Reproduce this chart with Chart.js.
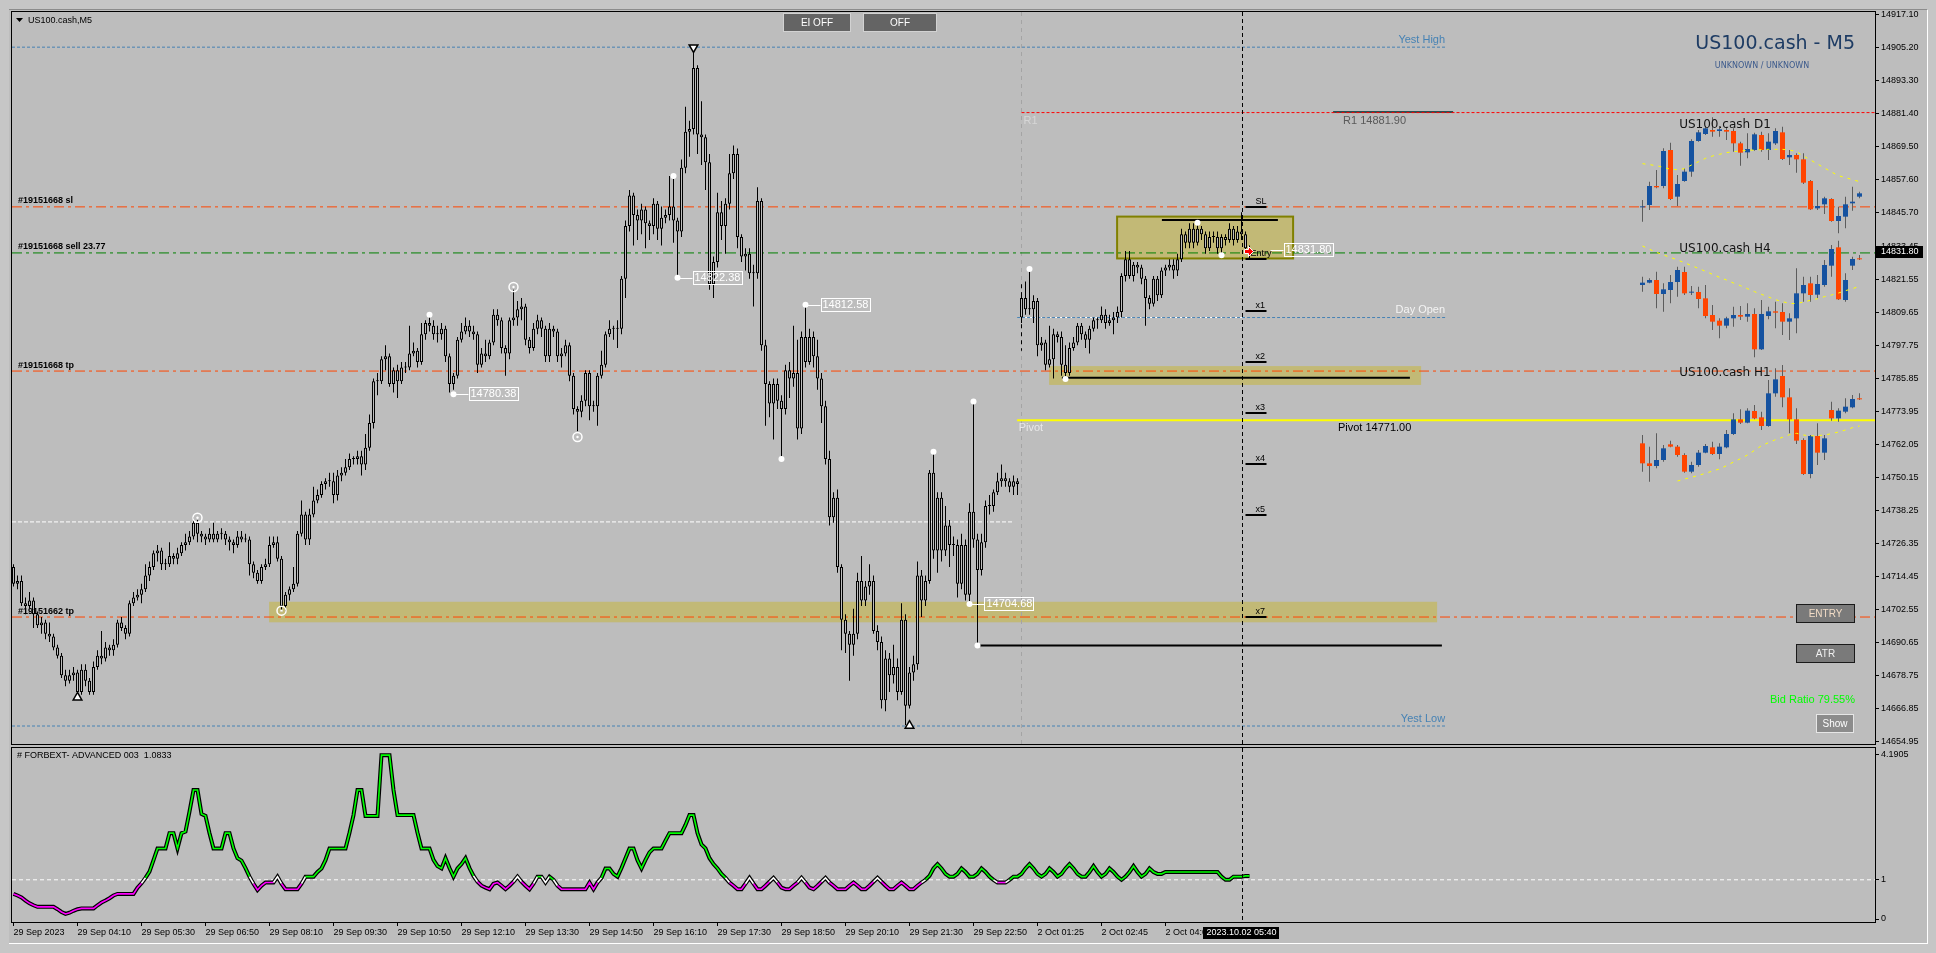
<!DOCTYPE html>
<html>
<head>
<meta charset="utf-8">
<title>US100.cash,M5</title>
<script src="https://cdn.jsdelivr.net/npm/chart.js@4.4.1/dist/chart.umd.min.js"></script>
<style>
  html, body { margin: 0; padding: 0; }
  body { width: 1936px; height: 953px; position: relative; overflow: hidden; background: #c6c6c6; }
  #win { position: absolute; left: 9px; top: 9px; width: 1919px; height: 935px; background: #bdbdbd;
         border-top: 1px solid #8c8c8c; border-right: 1px solid #fff; border-bottom: 1px solid #fff; box-sizing: border-box; }
  canvas { position: absolute; }
</style>
</head>
<body>
<div id="win"></div>
<canvas id="main" width="1936" height="770" style="left:0;top:0"></canvas>
<canvas id="ind" width="1936" height="223" style="left:0;top:730px"></canvas>
<canvas id="d1" width="240" height="125" style="left:1630px;top:110px"></canvas>
<canvas id="h4" width="240" height="125" style="left:1630px;top:235px"></canvas>
<canvas id="h1" width="240" height="130" style="left:1630px;top:360px"></canvas>
<script>
const BG = '#bdbdbd';
const FONT = '"Liberation Sans", Arial, sans-serif';

// time axis, one label every 16 bars (80 min of M5)
const timeLabels = ['29 Sep 2023', '29 Sep 04:10', '29 Sep 05:30', '29 Sep 06:50', '29 Sep 08:10', '29 Sep 09:30',
  '29 Sep 10:50', '29 Sep 12:10', '29 Sep 13:30', '29 Sep 14:50', '29 Sep 16:10', '29 Sep 17:30', '29 Sep 18:50',
  '29 Sep 20:10', '29 Sep 21:30', '29 Sep 22:50', '2 Oct 01:25', '2 Oct 02:45', '2 Oct 04:05'];
const cursorBar = 307;
const cursorLabel = '2023.10.02 05:40';

const priceTicks = [14917.10, 14905.20, 14893.30, 14881.40, 14869.50, 14857.60, 14845.70, 14833.45, 14821.55,
  14809.65, 14797.75, 14785.85, 14773.95, 14762.05, 14750.15, 14738.25, 14726.35, 14714.45, 14702.55, 14690.65,
  14678.75, 14666.85, 14654.95];

const fridayOpen = 14718, mondayOpen = 14808, mondayStart = 252;
const closes = [
  14712,14713,14705,14704,14706,14701,14697,14698,14694,14693, 14689,14686,14679,14677,14679,14680,14673,14681,14677,14673,
  14682,14686,14685,14689,14688,14690,14698,14696,14694,14705, 14707,14708,14710,14715,14718,14723,14724,14719,14719,14722,
  14721,14723,14726,14727,14729,14734,14730,14729,14728,14730, 14728,14730,14730,14728,14727,14726,14729,14728,14728,14719,
  14716,14713,14718,14719,14726,14727,14721,14704,14708,14710, 14712,14730,14737,14728,14737,14742,14744,14748,14749,14749,
  14744,14751,14752,14754,14757,14757,14758,14755,14761,14770, 14785,14785,14793,14794,14784,14789,14785,14790,14790,14795,
  14796,14792,14802,14806,14805,14802,14802,14804,14794,14784, 14787,14800,14803,14805,14803,14802,14791,14795,14794,14799,
  14809,14807,14797,14795,14807,14808,14811,14812,14800,14797, 14804,14807,14804,14794,14804,14803,14794,14795,14798,14787,
  14775,14774,14778,14788,14776,14776,14787,14791,14802,14804, 14804,14804,14822,14841,14852,14845,14843,14847,14842,14841,
  14849,14840,14844,14845,14848,14843,14839,14862,14875,14876, 14898,14874,14873,14864,14820,14828,14846,14841,14849,14860,
  14867,14837,14830,14831,14824,14824,14850,14798,14784,14777, 14784,14778,14775,14789,14786,14788,14768,14801,14792,14801,
  14794,14786,14776,14757,14736,14743,14718,14699,14694,14690, 14694,14713,14706,14711,14713,14695,14691,14670,14685,14679,
  14682,14673,14699,14668,14680,14683,14715,14706,14713,14752, 14724,14743,14724,14733,14726,14726,14712,14726,14708,14738,
  14728,14717,14727,14740,14740,14745,14749,14750,14749,14747, 14749,14748,14815,14811,14811,14814,14798,14799,14791,14793,
  14802,14801,14791,14788,14797,14799,14805,14802,14800,14804, 14807,14807,14809,14806,14807,14808,14810,14823,14829,14823,
  14827,14826,14822,14815,14813,14822,14816,14825,14826,14827, 14825,14829,14838,14835,14840,14835,14840,14838,14833,14837,
  14837,14833,14837,14836,14840,14836,14839,14838,14833,14832];
const highs = [
  14719,14715,14715,14707,14709,14707,14702,14700,14699,14698, 14694,14690,14687,14681,14681,14682,14681,14683,14683,14678,
  14684,14688,14695,14691,14690,14692,14699,14700,14697,14706, 14709,14710,14712,14719,14720,14724,14726,14725,14721,14727,
  14723,14725,14727,14730,14731,14736,14735,14731,14730,14732, 14734,14731,14732,14731,14729,14728,14731,14731,14730,14729,
  14720,14717,14719,14721,14729,14729,14729,14722,14709,14711, 14718,14731,14742,14738,14739,14747,14746,14749,14750,14752,
  14752,14753,14754,14757,14759,14758,14760,14760,14766,14773, 14786,14788,14794,14798,14795,14790,14791,14792,14792,14805,
  14799,14797,14806,14807,14809,14807,14805,14806,14805,14795, 14788,14801,14806,14808,14807,14805,14803,14797,14800,14800,
  14811,14811,14808,14798,14808,14818,14814,14815,14813,14801, 14806,14809,14808,14805,14806,14805,14804,14797,14800,14799,
  14788,14776,14780,14789,14789,14778,14788,14796,14803,14807, 14805,14807,14823,14843,14854,14853,14847,14849,14848,14843,
  14851,14850,14848,14847,14859,14858,14844,14865,14884,14879, 14906,14899,14886,14874,14867,14830,14853,14850,14851,14867,
  14870,14869,14838,14833,14833,14827,14855,14851,14800,14785, 14786,14786,14780,14791,14792,14805,14800,14803,14813,14804,
  14803,14800,14788,14778,14760,14745,14746,14719,14701,14695, 14703,14716,14722,14713,14719,14715,14697,14693,14688,14687,
  14690,14685,14705,14701,14682,14686,14720,14717,14715,14753, 14760,14745,14745,14740,14735,14729,14728,14730,14728,14741,
  14778,14730,14730,14742,14744,14746,14752,14755,14752,14750, 14751,14750,14817,14821,14826,14816,14815,14801,14800,14805,
  14804,14803,14803,14798,14799,14801,14806,14806,14803,14805, 14808,14808,14812,14811,14809,14810,14812,14824,14832,14832,
  14828,14828,14827,14823,14816,14823,14823,14826,14827,14829, 14829,14831,14840,14839,14842,14842,14842,14841,14839,14839,
  14839,14839,14838,14838,14842,14841,14841,14846,14839,14834];
const lows = [
  14711,14710,14704,14701,14703,14696,14696,14694,14692,14691, 14688,14685,14678,14675,14676,14677,14671,14672,14675,14672,
  14672,14681,14683,14684,14686,14686,14689,14695,14692,14693, 14704,14706,14705,14709,14713,14717,14720,14717,14717,14718,
  14719,14719,14722,14724,14726,14728,14727,14727,14726,14727, 14727,14727,14728,14726,14724,14723,14725,14727,14727,14715,
  14714,14712,14712,14717,14718,14725,14720,14702,14702,14706, 14709,14711,14729,14726,14726,14736,14741,14743,14746,14747,
  14741,14742,14749,14751,14753,14755,14755,14751,14753,14760, 14768,14780,14784,14789,14783,14781,14779,14784,14788,14789,
  14794,14790,14791,14800,14803,14800,14799,14800,14792,14781, 14782,14786,14799,14802,14801,14800,14788,14790,14792,14793,
  14798,14805,14795,14787,14793,14805,14805,14807,14798,14795, 14796,14802,14801,14792,14792,14801,14792,14790,14794,14785,
  14773,14767,14772,14776,14771,14774,14769,14786,14790,14801, 14800,14797,14802,14815,14839,14834,14836,14838,14833,14836,
  14838,14836,14834,14842,14843,14835,14823,14837,14860,14866, 14874,14867,14863,14854,14818,14815,14826,14836,14831,14847,
  14858,14833,14828,14825,14822,14812,14822,14796,14769,14772, 14764,14775,14758,14773,14779,14783,14764,14766,14790,14791,
  14790,14782,14770,14755,14733,14734,14716,14688,14687,14677, 14686,14692,14704,14704,14708,14694,14688,14667,14666,14673,
  14676,14670,14672,14661,14667,14677,14681,14700,14704,14712, 14721,14716,14720,14722,14718,14722,14707,14710,14706,14705,
  14725,14690,14715,14725,14737,14738,14744,14747,14747,14745, 14744,14744,14806,14809,14809,14806,14794,14796,14789,14790,
  14786,14799,14787,14786,14787,14796,14798,14800,14797,14795, 14803,14804,14806,14804,14805,14802,14806,14808,14821,14822,
  14821,14824,14820,14805,14811,14812,14814,14815,14823,14825, 14822,14823,14828,14833,14833,14833,14834,14836,14831,14832,
  14835,14831,14830,14834,14835,14834,14835,14836,14831,14829];

// FORBEXT- ADVANCED 003 sub-window values
const forbext = [
  0.64,0.60,0.55,0.47,0.40,0.35,0.31,0.31,0.31,0.31, 0.31,0.25,0.18,0.13,0.16,0.21,0.25,0.27,0.27,0.27,
  0.27,0.35,0.42,0.47,0.53,0.60,0.64,0.64,0.64,0.64, 0.64,0.80,0.91,1.05,1.21,1.50,1.80,1.80,1.80,2.19,
  2.19,1.80,2.19,2.23,2.74,3.29,3.29,2.68,2.63,2.19, 1.80,1.80,1.80,2.19,2.19,1.80,1.55,1.49,1.30,1.08,
  0.90,0.74,0.85,0.93,0.93,0.93,1.08,0.90,0.76,0.76, 0.76,0.76,0.90,1.08,1.08,1.08,1.20,1.29,1.50,1.80,
  1.80,1.80,1.80,1.80,2.20,2.65,3.29,3.29,2.63,2.63, 2.63,2.63,4.18,4.18,4.18,3.29,2.65,2.65,2.65,2.65,
  2.65,2.20,1.80,1.80,1.80,1.51,1.35,1.29,1.55,1.30, 1.08,1.29,1.40,1.55,1.30,1.10,0.95,0.85,0.80,0.76,
  0.90,0.93,0.85,0.76,0.85,0.95,1.08,0.95,0.85,0.76, 0.90,1.08,1.08,0.93,1.08,1.00,0.85,0.76,0.76,0.76,
  0.76,0.76,0.76,0.76,0.93,0.76,0.93,1.05,1.29,1.29, 1.15,1.08,1.30,1.55,1.80,1.80,1.50,1.29,1.51,1.70,
  1.80,1.80,1.80,2.00,2.19,2.19,2.19,2.19,2.40,2.65, 2.65,2.19,1.90,1.80,1.55,1.40,1.29,1.15,1.05,0.93,
  0.85,0.76,0.76,0.90,1.05,0.90,0.76,0.76,0.85,0.95, 1.05,0.93,0.80,0.76,0.76,0.85,0.93,1.05,0.93,0.80,
  0.76,0.85,0.95,1.05,0.93,0.85,0.76,0.76,0.76,0.85, 0.93,0.85,0.76,0.76,0.85,0.95,1.05,0.95,0.85,0.76,
  0.76,0.85,0.93,0.85,0.76,0.76,0.85,0.93,1.00,1.10, 1.29,1.40,1.29,1.15,1.08,1.08,1.15,1.29,1.20,1.08,
  1.08,1.15,1.29,1.20,1.08,1.00,0.93,0.93,0.93,1.00, 1.08,1.08,1.15,1.29,1.40,1.29,1.15,1.08,1.15,1.29,
  1.20,1.08,1.15,1.29,1.40,1.29,1.15,1.08,1.08,1.20, 1.35,1.20,1.08,1.15,1.29,1.20,1.08,1.00,1.08,1.20,
  1.35,1.20,1.08,1.15,1.29,1.20,1.15,1.15,1.20,1.20, 1.20,1.20,1.20,1.20,1.20,1.20,1.20,1.20,1.20,1.20,
  1.20,1.20,1.08,1.00,1.00,1.08,1.08,1.08,1.10,1.10];
const forbextTicks = [0, 1, 4.1905];

// levels
const tradeLevels = [14847.9, 14831.3, 14788.7, 14700.0];
const tradeNames = ['#19151668 sl', '#19151668 sell 23.77', '#19151668 tp', '#19151662 tp'];
const yestHigh = 14905.5, yestLow = 14660.7, r1 = 14881.9, pivot = 14771.0, dayOpen = 14808.0, prevLevel = 14734.3;
const bid = 14831.80;
const zoneTops = [14844.4, 14790.5, 14705.5];
const zoneBottoms = [14829.3, 14783.7, 14698.1];
const zoneFrom = [275.9, 258.9, 63.9];
const zoneTo = [319.9, 351.9, 355.9];
const blackLevels = [14786.3, 14689.7, 14843.2];
const blackFrom = [262.1, 240.9, 287.1];
const blackTo = [349.1, 357.1, 316.1];
const markerNames = ['SL', 'Entry', 'x1', 'x2', 'x3', 'x4', 'x5', 'x7'];
const markerLevels = [14847.9, 14829.0, 14810.5, 14792.1, 14773.7, 14755.3, 14736.9, 14700.1];

// fractal points
const dotBars = [104, 165, 192, 230, 240, 241, 254, 263, 296, 302, 110, 166, 198, 239];
const dotPrices = [14809, 14859, 14757, 14759.6, 14777.7, 14689.7, 14825.5, 14785.8, 14842.2, 14830.5,
  14780.38, 14822.38, 14812.58, 14704.68];
const ringBars = [46, 67, 125, 141];
const ringPrices = [14735.8, 14702.3, 14819.0, 14764.9];
const tagBars = [110, 166, 198, 239];
const tagPrices = [14780.38, 14822.38, 14812.58, 14704.68];
const topArrowBars = [170], topArrowPrices = [14905.4];
const lowArrowBars = [16, 224], lowArrowPrices = [14671, 14660.8];

// multi timeframe panels
const d1Open = [14756,14770,14884,14884,15100,14820,14914,14970,15154,15196,15220,15214,15220,15214,15140,15086,15100,15190,15100,15140,15206,15056,15070,15044,14914,14750,14774,14806,14674,14700,14780,14820];
const d1High = [14800,14910,14980,15110,15144,14950,14990,15164,15220,15244,15296,15244,15240,15230,15150,15200,15204,15210,15200,15230,15240,15100,15080,15080,14920,14860,14820,14810,14760,14820,14880,14850];
const d1Low = [14670,14740,14870,14870,14800,14764,14910,14940,15150,15190,15180,15180,15160,15090,15006,15050,15096,15090,15040,15130,15040,15010,14964,14896,14740,14740,14716,14670,14600,14630,14736,14810];
const d1Close = [14760,14884,14876,15094,14806,14896,14970,15154,15206,15230,15210,15224,15210,15140,15084,15106,15194,15100,15150,15214,15046,15070,15044,14904,14744,14764,14810,14674,14704,14774,14790,14840];
const d1Ma = [15018,15012,15006,14996,14984,14982,14988,15010,15030,15050,15064,15074,15084,15090,15094,15098,15100,15102,15104,15104,15104,15100,15090,15064,15040,15016,14992,14968,14946,14934,14922,14910];

const h4Open = [14845,14852,14860,14818,14830,14854,14884,14822,14824,14805,14755,14738,14723,14745,14755,14750,14758,14652,14752,14766,14764,14735,14745,14820,14850,14816,14845,14903,14958,14800,14903,14925];
const h4High = [14870,14865,14885,14850,14875,14900,14900,14842,14840,14845,14785,14745,14750,14780,14782,14790,14775,14800,14780,14795,14790,14760,14895,14870,14870,14875,14920,14965,14978,14880,14930,14935];
const h4Low = [14825,14850,14775,14765,14790,14810,14815,14815,14775,14745,14710,14685,14715,14720,14740,14735,14628,14650,14742,14715,14695,14680,14700,14795,14795,14805,14840,14870,14800,14795,14890,14920];
const h4Close = [14852,14860,14818,14832,14854,14890,14820,14824,14803,14752,14735,14723,14745,14755,14750,14758,14652,14758,14766,14762,14735,14745,14820,14845,14815,14848,14905,14953,14802,14860,14923,14922];
const h4Ma = [14962,14952,14943,14935,14928,14920,14912,14903,14895,14886,14877,14868,14860,14851,14843,14834,14825,14817,14809,14801,14795,14790,14789,14794,14799,14804,14810,14815,14821,14828,14834,14841];

const h1Open = [14770,14710,14702,14720,14767,14760,14735,14685,14705,14742,14758,14738,14758,14798,14842,14832,14867,14848,14822,14920,14972,14908,14842,14780,14678,14792,14742,14870,14845,14865,14878,14905];
const h1High = [14795,14760,14800,14765,14778,14765,14740,14715,14750,14768,14775,14770,14810,14860,14872,14875,14885,14865,14960,14995,15005,14935,14875,14785,14795,14830,14795,14895,14875,14905,14915,14920];
const h1Low = [14685,14655,14695,14715,14758,14730,14682,14680,14700,14740,14735,14722,14755,14795,14828,14830,14842,14810,14820,14910,14878,14800,14768,14675,14665,14705,14720,14838,14835,14860,14875,14900];
const h1Close = [14710,14702,14720,14755,14760,14735,14685,14705,14742,14762,14738,14760,14798,14842,14832,14868,14845,14822,14920,14962,14908,14842,14778,14678,14792,14742,14785,14845,14868,14880,14903,14902];
const h1Ma = [null,null,null,null,null,14657,14663,14668,14674,14680,14687,14693,14703,14714,14724,14735,14749,14763,14772,14781,14788,14796,14800,14795,14792,14793,14795,14799,14804,14810,14817,14822];

const xMin = -0.375, xMax = 465.375;

function txt(ctx, s, x, y, color, font, align) {
  ctx.fillStyle = color;
  ctx.font = font;
  ctx.textAlign = align || 'left';
  ctx.textBaseline = 'middle';
  ctx.fillText(s, x, y);
}

function button(ctx, x, y, w, h, label, fill, edge, color) {
  ctx.setLineDash([]);
  ctx.fillStyle = fill;
  ctx.fillRect(x, y, w, h);
  ctx.strokeStyle = edge;
  ctx.lineWidth = 1;
  ctx.strokeRect(x + 0.5, y + 0.5, w - 1, h - 1);
  txt(ctx, label, x + w / 2, y + h / 2 + 0.5, color, '10px ' + FONT, 'center');
}

function hline(p, b0, b1, color, dash, width) {
  return {
    type: 'line', data: [{ x: b0, y: p }, { x: b1, y: p }], borderColor: color, borderDash: dash,
    borderWidth: width, pointRadius: 0, order: 6
  };
}

// ---------- main window ----------
const opens = closes.map((c, i) => i === 0 ? fridayOpen : (i === mondayStart ? mondayOpen : closes[i - 1]));

const levelSets = [
  hline(yestHigh, xMin, 357.9, '#4682b4', [3, 2], 1),
  hline(yestLow, xMin, 357.9, '#4682b4', [3, 2], 1),
  hline(prevLevel, xMin, 249.9, '#ffffff', [4, 2], 1),
  hline(r1, 252, xMax, '#ff0000', [3, 2], 1),
  hline(r1 + 0.2, 329.9, 359.9, '#2f4f4f', [], 2),
  hline(dayOpen, 250.9, 357.9, '#4682b4', [3, 2], 1),
  hline(dayOpen, 250.9, 308, '#ffffff', [4, 2], 1),
  hline(pivot, 250.9, xMax, '#ffff00', [], 2)
];
tradeLevels.forEach((p, i) => levelSets.push(hline(p, xMin, xMax, i === 1 ? '#008000' : '#ff4500', [10, 4, 3, 4], 1)));
blackLevels.forEach((p, i) => {
  const s = hline(p, blackFrom[i], blackTo[i], '#000000', [], 2);
  s.order = 3;
  levelSets.push(s);
});

const mainDecor = {
  id: 'mainDecor',
  beforeDatasetsDraw(chart) {
    const { ctx, scales: { x: xs, y: ys } } = chart;
    ctx.save();
    zoneTops.forEach((t, i) => {
      const x0 = xs.getPixelForValue(zoneFrom[i]), x1 = xs.getPixelForValue(zoneTo[i]);
      const y0 = ys.getPixelForValue(t), y1 = ys.getPixelForValue(zoneBottoms[i]);
      ctx.fillStyle = 'rgba(198,182,60,0.55)';
      ctx.fillRect(x0, y0, x1 - x0, y1 - y0);
      if (i === 0) {
        ctx.strokeStyle = '#808000';
        ctx.lineWidth = 2;
        ctx.strokeRect(x0, y0, x1 - x0, y1 - y0);
      }
    });
    // Monday separator
    const sx = Math.round(xs.getPixelForValue(mondayStart)) + 0.5;
    ctx.lineWidth = 1;
    ctx.setLineDash([4, 4]);
    ctx.strokeStyle = '#a4a4a4';
    ctx.beginPath(); ctx.moveTo(sx, chart.chartArea.top); ctx.lineTo(sx, chart.chartArea.bottom); ctx.stroke();
    ctx.strokeStyle = '#000';
    ctx.beginPath(); ctx.moveTo(sx, ys.getPixelForValue(14820)); ctx.lineTo(sx, ys.getPixelForValue(14796)); ctx.stroke();
    ctx.restore();
  },
  afterDatasetsDraw(chart) {
    const { ctx, chartArea: ca, scales: { x: xs, y: ys } } = chart;
    const X = b => xs.getPixelForValue(b), Y = p => ys.getPixelForValue(p);
    ctx.save();
    // cursor line
    const cx = Math.round(X(cursorBar)) + 0.5;
    ctx.setLineDash([4, 3]);
    ctx.strokeStyle = '#000';
    ctx.lineWidth = 1;
    ctx.beginPath(); ctx.moveTo(cx, ca.top); ctx.lineTo(cx, ca.bottom); ctx.stroke();
    ctx.setLineDash([]);

    // small ring centres
    ringBars.forEach((b, i) => {
      ctx.fillStyle = '#ffffff';
      ctx.beginPath(); ctx.arc(X(b), Y(ringPrices[i]), 1.2, 0, Math.PI * 2); ctx.fill();
    });

    // trade labels at left
    tradeLevels.forEach((p, i) => txt(ctx, tradeNames[i], 18, Y(p) - 6, '#000', 'bold 9px ' + FONT));

    // level captions
    const f11 = '11px ' + FONT;
    txt(ctx, 'Yest High', X(357.9), Y(yestHigh) - 7, '#4682b4', f11, 'right');
    txt(ctx, 'Yest Low', X(357.9), Y(yestLow) - 7, '#4682b4', f11, 'right');
    txt(ctx, 'Day Open', X(357.9), Y(dayOpen) - 8, '#f4f4f4', f11, 'right');
    txt(ctx, 'R1', X(252.5), Y(r1) + 8, '#d6d6d6', f11);
    txt(ctx, 'R1 ' + r1.toFixed(2), X(332.4), Y(r1) + 8, '#5a5a5a', f11);
    txt(ctx, 'Pivot', X(251.3), Y(pivot) + 8, '#e8e8e8', f11);
    txt(ctx, 'Pivot ' + pivot.toFixed(2), X(331.1), Y(pivot) + 8, '#000', f11);

    // trade markers next to the last bar
    markerLevels.forEach((p, i) => {
      const y = Math.round(Y(p));
      ctx.fillStyle = '#000';
      ctx.fillRect(cx + 3, y - 1, 21, 2);
      txt(ctx, markerNames[i], cx + (i === 1 ? 8 : 13), y - 5, '#000', '9px ' + FONT);
    });
    // sell arrow
    const ay = Y(bid);
    ctx.fillStyle = '#ff0000';
    ctx.strokeStyle = '#ffffff';
    ctx.beginPath();
    ctx.moveTo(cx + 2, ay - 2); ctx.lineTo(cx + 6, ay - 2); ctx.lineTo(cx + 6, ay - 5); ctx.lineTo(cx + 11, ay);
    ctx.lineTo(cx + 6, ay + 5); ctx.lineTo(cx + 6, ay + 2); ctx.lineTo(cx + 2, ay + 2); ctx.closePath();
    ctx.fill(); ctx.stroke();

    // price tags
    const tag = (x, y, s) => {
      ctx.font = '11px ' + FONT;
      const w = ctx.measureText(s).width + 3;
      ctx.strokeStyle = '#ffffff';
      ctx.lineWidth = 1;
      ctx.beginPath(); ctx.moveTo(x + 2, Math.round(y) + 0.5); ctx.lineTo(x + 15, Math.round(y) + 0.5); ctx.stroke();
      ctx.strokeRect(Math.round(x + 15) + 0.5, Math.round(y - 7) + 0.5, Math.round(w), 13);
      txt(ctx, s, x + 17, y, '#ffffff', '11px ' + FONT);
    };
    tagBars.forEach((b, i) => tag(X(b), Y(tagPrices[i]), tagPrices[i].toFixed(2)));
    tag(cx + 26, Y(bid) - 2, bid.toFixed(2));

    // frame
    ctx.strokeStyle = '#000';
    ctx.lineWidth = 1;
    ctx.strokeRect(ca.left - 0.5, ca.top - 0.5, ca.right - ca.left + 1, ca.bottom - ca.top + 1);
    ctx.restore();
  },
  afterDraw(chart) {
    const { ctx, scales: { y: ys } } = chart;
    ctx.save();
    // bid box on price scale
    const by = Math.round(ys.getPixelForValue(bid));
    ctx.fillStyle = '#000';
    ctx.fillRect(1876, by - 6, 47, 12);
    txt(ctx, bid.toFixed(2), 1881, by, '#ffffff', '9px ' + FONT);

    // window caption
    ctx.fillStyle = '#000';
    ctx.beginPath(); ctx.moveTo(16, 18); ctx.lineTo(23, 18); ctx.lineTo(19.5, 22); ctx.closePath(); ctx.fill();
    txt(ctx, 'US100.cash,M5', 28, 21, '#000', '9px ' + FONT);

    button(ctx, 783, 13, 68, 19, 'EI OFF', '#646464', '#d2d2d2', '#ffffff');
    button(ctx, 863, 13, 74, 19, 'OFF', '#646464', '#d2d2d2', '#ffffff');

    txt(ctx, 'US100.cash - M5', 1855, 44, '#1e3c64', '19px "DejaVu Sans", sans-serif', 'right');
    txt(ctx, 'UNKNOWN / UNKNOWN', 1762, 66, '#3c5a8c', '8px "DejaVu Sans", sans-serif', 'center');

    button(ctx, 1796, 604, 59, 19, 'ENTRY', '#7a7a7a', '#1a1a1a', '#f2dcc6');
    button(ctx, 1796, 644, 59, 19, 'ATR', '#7a7a7a', '#1a1a1a', '#f0f0f0');
    txt(ctx, 'Bid Ratio 79.55%', 1855, 700, '#00ff00', '11px ' + FONT, 'right');
    button(ctx, 1816, 714, 38, 19, 'Show', '#8c8c8c', '#e6e6e6', '#ffffff');
    ctx.restore();
  }
};

new Chart(document.getElementById('main'), {
  type: 'bar',
  data: {
    datasets: [
      {
        type: 'line', data: dotBars.map((b, i) => ({ x: b, y: dotPrices[i] })), showLine: false,
        pointRadius: 3, pointBackgroundColor: '#ffffff', pointBorderWidth: 0, order: 0
      },
      {
        type: 'line', data: ringBars.map((b, i) => ({ x: b, y: ringPrices[i] })), showLine: false,
        pointRadius: 4.5, pointBackgroundColor: 'rgba(0,0,0,0)', pointBorderColor: '#ffffff', pointBorderWidth: 1.5, order: 0
      },
      {
        type: 'line', data: topArrowBars.map((b, i) => ({ x: b, y: topArrowPrices[i] })), showLine: false,
        pointStyle: 'triangle', rotation: 180, pointRadius: 5, pointBackgroundColor: '#ffffff', pointBorderColor: '#000', pointBorderWidth: 1.5, order: 0
      },
      {
        type: 'line', data: lowArrowBars.map((b, i) => ({ x: b, y: lowArrowPrices[i] })), showLine: false,
        pointStyle: 'triangle', pointRadius: 5, pointBackgroundColor: '#ffffff', pointBorderColor: '#000', pointBorderWidth: 1.5, order: 0
      },
      {
        type: 'bar', data: opens.map((o, i) => ({ x: i, y: [o, closes[i]] })), backgroundColor: BG,
        borderColor: '#000', borderWidth: 1, borderSkipped: false, barThickness: 3, minBarLength: 1,
        grouped: false, inflateAmount: 0, order: 1
      },
      {
        type: 'bar', data: lows.map((l, i) => ({ x: i, y: [l, highs[i]] })), backgroundColor: '#000',
        barThickness: 1, grouped: false, inflateAmount: 0, order: 2
      },
      ...levelSets
    ]
  },
  options: {
    responsive: false, animation: false, devicePixelRatio: 1, events: [],
    layout: { padding: { left: 12, top: 12, right: 0, bottom: 26 } },
    plugins: { legend: { display: false }, tooltip: { enabled: false } },
    scales: {
      x: { type: 'linear', display: false, offset: false, min: xMin, max: xMax },
      y: {
        position: 'right', min: 14654.21, max: 14918.18, beginAtZero: false,
        afterBuildTicks: s => { s.ticks = priceTicks.map(v => ({ value: v })); },
        afterFit: s => { s.width = 61; },
        grid: { drawOnChartArea: false, drawTicks: true, tickLength: 4, color: '#000' },
        border: { display: true, color: '#000' },
        ticks: { autoSkip: false, padding: 2, color: '#000', font: { family: FONT, size: 9 }, callback: v => v.toFixed(2) }
      }
    }
  },
  plugins: [mainDecor]
});

// ---------- indicator window ----------
const indDecor = {
  id: 'indDecor',
  afterDatasetsDraw(chart) {
    const { ctx, chartArea: ca, scales: { x: xs } } = chart;
    ctx.save();
    const cx = Math.round(xs.getPixelForValue(cursorBar)) + 0.5;
    ctx.setLineDash([4, 3]);
    ctx.strokeStyle = '#000';
    ctx.beginPath(); ctx.moveTo(cx, ca.top); ctx.lineTo(cx, ca.bottom); ctx.stroke();
    ctx.setLineDash([]);
    ctx.strokeRect(ca.left - 0.5, ca.top - 0.5, ca.right - ca.left + 1, ca.bottom - ca.top + 1);
    txt(ctx, '# FORBEXT- ADVANCED 003  1.0833', 17, ca.top + 8, '#000', '9px ' + FONT);
    ctx.restore();
  },
  afterDraw(chart) {
    const { ctx, chartArea: ca, scales: { x: xs } } = chart;
    ctx.save();
    const cx = xs.getPixelForValue(cursorBar);
    ctx.font = '9px ' + FONT;
    const w = ctx.measureText(cursorLabel).width + 6;
    ctx.fillStyle = '#000';
    ctx.fillRect(Math.round(cx - w / 2), ca.bottom + 5, Math.round(w), 12);
    txt(ctx, cursorLabel, cx, ca.bottom + 11, '#ffffff', '9px ' + FONT, 'center');
    ctx.restore();
  }
};

const segColor = c => {
  const a = c.p0.parsed.y, b = c.p1.parsed.y;
  if (a >= 1 && b >= 1) return '#00ff00';
  if (a < 1 && b < 1) return '#ff00ff';
  return '#ffffff';
};
const indData = forbext.map((v, i) => ({ x: i, y: v }));

new Chart(document.getElementById('ind'), {
  type: 'line',
  data: {
    datasets: [
      { data: indData, borderColor: '#00ff00', borderWidth: 1.6, pointRadius: 0, segment: { borderColor: segColor }, order: 1 },
      { data: indData, borderColor: '#000', borderWidth: 4, pointRadius: 0, order: 2 },
      { data: [{ x: xMin, y: 1 }, { x: xMax, y: 1 }], borderColor: '#ffffff', borderDash: [4, 3], borderWidth: 1, pointRadius: 0, order: 3 }
    ]
  },
  options: {
    responsive: false, animation: false, devicePixelRatio: 1, events: [],
    layout: { padding: { left: 12, top: 18, right: 0, bottom: 0 } },
    plugins: { legend: { display: false }, tooltip: { enabled: false } },
    scales: {
      x: {
        type: 'linear', min: xMin, max: xMax, offset: false,
        afterBuildTicks: s => { s.ticks = timeLabels.map((t, i) => ({ value: i * 16 })); },
        afterFit: s => { s.height = 31; },
        grid: { drawOnChartArea: false, drawTicks: true, tickLength: 4, color: '#000' },
        border: { display: true, color: '#000' },
        ticks: {
          autoSkip: false, maxRotation: 0, minRotation: 0, align: 'start', padding: 1, color: '#000',
          font: { family: FONT, size: 9 }, callback: v => timeLabels[Math.round(v / 16)]
        }
      },
      y: {
        position: 'right', min: -0.0765, max: 4.362,
        afterBuildTicks: s => { s.ticks = forbextTicks.map(v => ({ value: v })); },
        afterFit: s => { s.width = 61; },
        grid: { drawOnChartArea: false, drawTicks: true, tickLength: 4, color: '#000' },
        border: { display: true, color: '#000' },
        ticks: { autoSkip: false, padding: 2, color: '#000', font: { family: FONT, size: 9 }, callback: v => String(v) }
      }
    }
  },
  plugins: [indDecor]
});

// ---------- D1 / H4 / H1 panels ----------
function miniChart(id, title, o, h, l, c, ma, lo, hi, titleY) {
  new Chart(document.getElementById(id), {
    type: 'bar',
    data: {
      datasets: [
        { type: 'line', data: ma.map((v, i) => ({ x: i, y: v })), borderColor: '#ffff00', borderWidth: 1, borderDash: [3, 5], pointRadius: 0, order: 0 },
        {
          type: 'bar', data: o.map((v, i) => ({ x: i, y: [v, c[i]] })), barThickness: 5, minBarLength: 1,
          backgroundColor: o.map((v, i) => c[i] >= v ? '#1552a0' : '#ff4500'), grouped: false, inflateAmount: 0, order: 1
        },
        {
          type: 'bar', data: l.map((v, i) => ({ x: i, y: [v, h[i]] })), barThickness: 1,
          backgroundColor: '#5c5c5c', grouped: false, inflateAmount: 0, order: 2
        }
      ]
    },
    options: {
      responsive: false, animation: false, devicePixelRatio: 1, events: [],
      layout: { padding: 0 },
      plugins: { legend: { display: false }, tooltip: { enabled: false } },
      scales: {
        x: { type: 'linear', display: false, offset: false, min: -1.786, max: 32.5 },
        y: { display: false, min: lo, max: hi, beginAtZero: false }
      }
    },
    plugins: [{
      id: 'miniTitle',
      afterDatasetsDraw(chart) {
        chart.ctx.save();
        txt(chart.ctx, title, 95, titleY, '#141414', '12px "DejaVu Sans", sans-serif', 'center');
        chart.ctx.restore();
      }
    }]
  });
}
miniChart('d1', 'US100.cash D1', d1Open, d1High, d1Low, d1Close, d1Ma, 14590, 15340, 15);
miniChart('h4', 'US100.cash H4', h4Open, h4High, h4Low, h4Close, h4Ma, 14620, 14995, 14);
miniChart('h1', 'US100.cash H1', h1Open, h1High, h1Low, h1Close, h1Ma, 14630, 15020, 13);
</script>
</body>
</html>
